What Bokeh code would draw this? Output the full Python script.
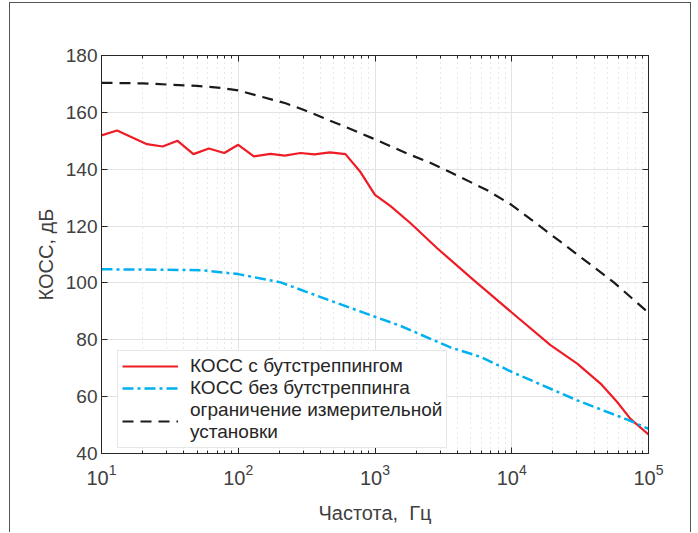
from bokeh.plotting import figure
from bokeh.models import FixedTicker, LogAxis, LinearAxis, Legend, LegendItem, CustomJSTickFormatter
from bokeh.embed import file_html
from bokeh.resources import INLINE

# ---- data ----
freq_red = [10, 13, 21.5, 28, 36, 47, 61, 79, 100, 130, 172, 219, 285, 361, 468, 608,
            783, 1000, 1300, 1820, 2850, 5270, 10000, 19200, 30100, 44600, 59000, 73800, 100000]
koss_red = [151.9, 153.6, 148.8, 148.0, 150.0, 145.3, 147.3, 145.7, 148.6, 144.5, 145.4, 144.8,
            145.7, 145.2, 145.9, 145.3, 139.0, 131.0, 127.0, 121.0, 112.2, 101.0, 89.6, 78.1,
            71.6, 64.6, 58.1, 52.2, 46.7]

freq_cyan = [10, 20, 30, 53, 100, 204, 495, 1000, 1535, 3565, 5900, 10000, 30100, 70000, 100000]
koss_cyan = [104.8, 104.7, 104.6, 104.5, 103.1, 100.2, 93.4, 88.1, 84.9, 77.3, 74.0, 68.7, 58.7, 51.9, 48.7]

freq_lim = [10, 20, 50, 74, 100, 153, 222, 316, 447, 630, 925, 1228, 1718, 2470, 3467,
            6680, 10000, 22700, 55800, 100000]
koss_lim = [170.4, 170.2, 169.3, 168.6, 167.7, 165.3, 163.2, 160.5, 157.5, 154.6, 151.2,
            148.6, 145.5, 142.5, 139.2, 132.5, 127.4, 114.5, 100.2, 89.5]

x_ticks = [10, 100, 1000, 10000, 100000]
x_minor = [k * 10 ** n for n in range(1, 5) for k in range(2, 10)]
y_ticks = [40, 60, 80, 100, 120, 140, 160, 180]

labels = ["КОСС с бутстреппингом", "КОСС без бутстреппинга",
          "ограничение измерительной\nустановки"]

FONT = "Liberation Sans"
AX = "#262626"
TXT = "#404040"

p = figure(width=682, height=530, x_axis_type="log", x_range=(10, 1e5), y_range=(40, 180),
           output_backend="svg", toolbar_location=None,
           min_border_left=91, min_border_right=44, min_border_top=52, min_border_bottom=80)
p.margin = (2, 0, 0, 9)
p.styles = {"border-top": "1px solid #555555", "border-left": "1px solid #555555",
            "border-right": "1px solid #555555"}
p.outline_line_color = AX
p.background_fill_color = "white"
p.border_fill_color = "white"

xt = FixedTicker(ticks=x_ticks, minor_ticks=x_minor)
yt = FixedTicker(ticks=y_ticks)
p.xaxis.ticker = xt
p.yaxis.ticker = yt

for ax in (p.xaxis, p.yaxis):
    ax.axis_line_color = AX
    ax.major_tick_line_color = AX
    ax.minor_tick_line_color = AX
    ax.major_tick_in = 6
    ax.major_tick_out = 0
    ax.minor_tick_in = 3
    ax.minor_tick_out = 0
    ax.major_label_text_font = FONT
    ax.major_label_text_color = TXT
    ax.axis_label_text_font = FONT
    ax.axis_label_text_color = TXT
    ax.axis_label_text_font_style = "normal"
    ax.axis_label_text_font_size = "20px"
p.yaxis.minor_tick_line_color = None
p.xaxis.major_label_text_font_size = "20px"
p.yaxis.major_label_text_font_size = "19px"
p.xaxis.major_label_standoff = 10
p.yaxis.major_label_standoff = 4
p.xaxis.axis_label = "Частота,\u00a0 Гц"
p.yaxis.axis_label = "КОСС, дБ"
p.xaxis.axis_label_standoff = 14
p.yaxis.axis_label_standoff = 6

blank = CustomJSTickFormatter(code="return ''")
top = LogAxis(ticker=xt, formatter=blank, axis_line_color=AX, major_tick_line_color=AX,
              minor_tick_line_color=AX, major_tick_in=6, major_tick_out=0,
              minor_tick_in=3, minor_tick_out=0, major_label_text_font_size="0px")
right = LinearAxis(ticker=yt, formatter=blank, axis_line_color=AX, major_tick_line_color=AX,
                   minor_tick_line_color=None, major_tick_in=6, major_tick_out=0,
                   major_label_text_font_size="0px")
p.add_layout(top, "above")
p.add_layout(right, "right")

p.xgrid.grid_line_color = "#e3e3e3"
p.xgrid.minor_grid_line_color = "#d0d0d0"
p.xgrid.minor_grid_line_dash = "1 4"
p.ygrid.grid_line_color = "#e3e3e3"

r1 = p.line(freq_red, koss_red, line_color="#ee1c25", line_width=2.2)
r2 = p.line(freq_cyan, koss_cyan, line_color="#00b0f0", line_width=2.5, line_dash="11 4 3 4")
r3 = p.line(freq_lim, koss_lim, line_color="#1a1a1a", line_width=2.2, line_dash="11 7")

legend = Legend(items=[LegendItem(label=labels[0], renderers=[r1]),
                       LegendItem(label=labels[1], renderers=[r2]),
                       LegendItem(label=labels[2], renderers=[r3])],
                location=(16, 5))
legend.label_text_font = FONT
legend.label_text_font_size = "19px"
legend.label_text_color = "#262626"
legend.label_text_line_height = 1.1
legend.glyph_width = 56
legend.glyph_height = 16
legend.label_height = 16
legend.spacing = 0
legend.padding = 4
legend.margin = 0
legend.label_standoff = 12
legend.border_line_color = "#d0d0d0"
legend.background_fill_alpha = 1
p.add_layout(legend)

open("out.html", "w").write(file_html(p, INLINE))
